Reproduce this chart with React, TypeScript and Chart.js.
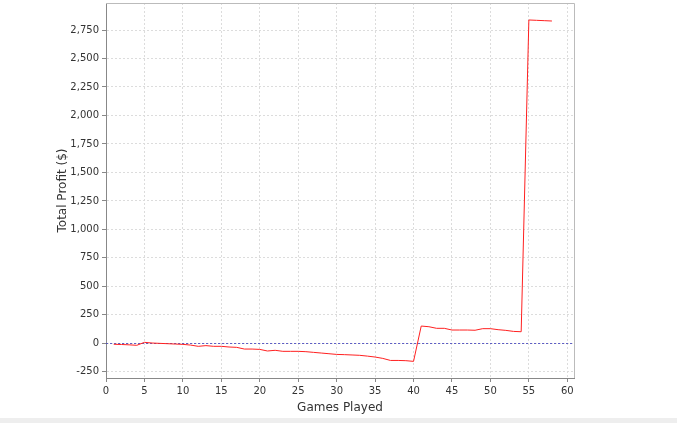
import React, { useEffect, useRef } from "react";
import { Chart, registerables } from "chart.js";

Chart.register(...registerables);

const games: number[] = [
  1, 2, 3, 4, 5, 6, 7, 8, 9, 10, 11, 12, 13, 14, 15, 16, 17, 18, 19, 20,
  21, 22, 23, 24, 25, 26, 27, 28, 29, 30, 31, 32, 33, 34, 35, 36, 37, 38, 39, 40,
  41, 42, 43, 44, 45, 46, 47, 48, 49, 50, 51, 52, 53, 54, 55, 56, 57, 58,
];

const totalProfit: number[] = [
  -8, -10, -13, -17, 9, 3, 0, -3, -6, -9, -15, -26, -20, -26, -26, -32, -35, -50, -50, -53,
  -67, -61, -70, -70, -70, -73, -79, -85, -91, -97, -99, -102, -105, -112, -120, -132, -150, -150, -152, -158,
  152, 146, 132, 132, 117, 117, 117, 115, 129, 129, 120, 114, 105, 102, 2838, 2835, 2832, 2829,
];

const xTicks: number[] = [0, 5, 10, 15, 20, 25, 30, 35, 40, 45, 50, 55, 60];
const yTicks: number[] = [-250, 0, 250, 500, 750, 1000, 1250, 1500, 1750, 2000, 2250, 2500, 2750];

const xTitle = "Games Played";
const yTitle = "Total Profit ($)";

const FONT = "'DejaVu Sans', sans-serif";

const framePlugin = {
  id: "frame",
  beforeDatasetsDraw(chart: any) {
    const { ctx, chartArea, scales } = chart;
    const y0 = Math.round(scales.y.getPixelForValue(0)) + 0.5;
    ctx.save();
    ctx.strokeStyle = "rgba(70,70,190,0.85)";
    ctx.lineWidth = 1;
    ctx.setLineDash([2, 2]);
    ctx.beginPath();
    ctx.moveTo(chartArea.left, y0);
    ctx.lineTo(chartArea.right, y0);
    ctx.stroke();
    ctx.restore();
  },
  afterDraw(chart: any) {
    const { ctx, chartArea } = chart;
    ctx.save();
    ctx.strokeStyle = "#bbbbbb";
    ctx.lineWidth = 1;
    ctx.beginPath();
    ctx.moveTo(chartArea.left, Math.round(chartArea.top) + 0.5);
    ctx.lineTo(Math.round(chartArea.right) + 0.5, Math.round(chartArea.top) + 0.5);
    ctx.lineTo(Math.round(chartArea.right) + 0.5, chartArea.bottom);
    ctx.stroke();
    ctx.restore();
  },
};

export default function App() {
  const ref = useRef<HTMLCanvasElement | null>(null);

  useEffect(() => {
    document.body.style.margin = "0";
    const canvas = ref.current;
    if (!canvas) return;
    const chart = new Chart(canvas, {
      type: "line",
      data: {
        datasets: [
          {
            data: games.map((g, i) => ({ x: g, y: totalProfit[i] })),
            borderColor: "#ff2020",
            borderWidth: 1,
            pointRadius: 0,
            tension: 0,
            fill: false,
          },
        ],
      },
      options: {
        animation: false,
        responsive: false,
        maintainAspectRatio: false,
        layout: { padding: { top: 3, right: 103, left: 0, bottom: 0 } },
        plugins: {
          legend: { display: false },
          tooltip: { enabled: false },
        },
        scales: {
          x: {
            type: "linear",
            min: 0,
            max: 60.87,
            afterFit: (s: any) => {
              s.height = 40;
              s.paddingLeft = 0;
              s.paddingRight = 0;
            },
            afterBuildTicks: (s: any) => {
              s.ticks = xTicks.map((v) => ({ value: v }));
            },
            ticks: {
              maxRotation: 0,
              autoSkip: false,
              padding: 3,
              color: "#333333",
              font: { family: FONT, size: 10 },
            },
            grid: {
              color: "#dcdcdc",
              tickColor: "#888888",
              tickBorderDash: [0, 0],
              tickLength: 4,
            } as any,
            border: { color: "#888888", dash: [2, 2] } as any,
            title: {
              display: true,
              text: xTitle,
              color: "#333333",
              font: { family: FONT, size: 12 },
              padding: { top: 0, bottom: 3 },
            },
          },
          y: {
            type: "linear",
            min: -304,
            max: 2987,
            afterFit: (s: any) => {
              s.width = 106;
              s.paddingTop = 0;
              s.paddingBottom = 0;
            },
            afterBuildTicks: (s: any) => {
              s.ticks = yTicks.map((v) => ({ value: v }));
            },
            ticks: {
              autoSkip: false,
              padding: 3,
              color: "#333333",
              font: { family: FONT, size: 10 },
              callback: (v: any) => Number(v).toLocaleString("en-US"),
            },
            grid: {
              color: "#dcdcdc",
              tickColor: "#888888",
              tickBorderDash: [0, 0],
              tickLength: 4,
            } as any,
            border: { color: "#888888", dash: [2, 2] } as any,
            title: {
              display: true,
              text: yTitle,
              color: "#333333",
              font: { family: FONT, size: 12 },
              padding: { top: 56, bottom: 0 },
            },
          },
        },
      },
      plugins: [framePlugin],
    });
    return () => chart.destroy();
  }, []);

  return (
    <div style={{ position: "fixed", left: 0, top: 0, width: 677, height: 423, background: "#ffffff" }}>
      <canvas ref={ref} width={677} height={418} style={{ display: "block", width: 677, height: 418 }} />
      <div style={{ width: 677, height: 5, background: "#eeeeee" }} />
    </div>
  );
}
